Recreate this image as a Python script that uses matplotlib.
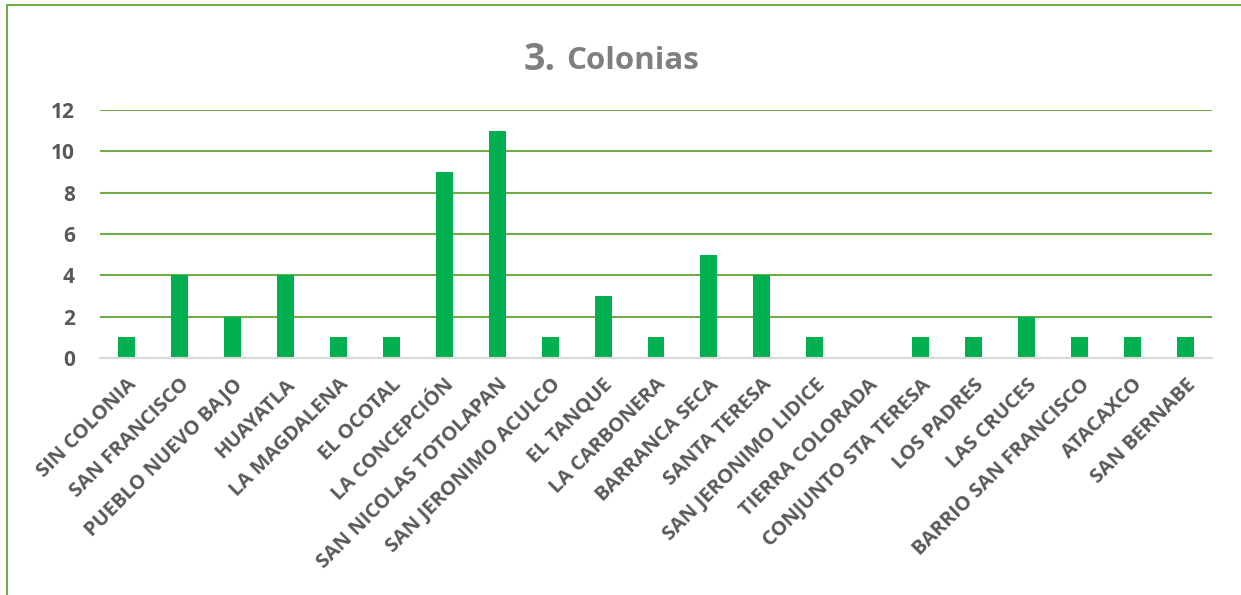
import matplotlib.pyplot as plt
from matplotlib.lines import Line2D

colonias = ["SIN COLONIA", "SAN FRANCISCO", "PUEBLO NUEVO BAJO", "HUAYATLA",
            "LA MAGDALENA", "EL OCOTAL", "LA CONCEPCIÓN", "SAN NICOLAS TOTOLAPAN",
            "SAN JERONIMO ACULCO", "EL TANQUE", "LA CARBONERA", "BARRANCA SECA",
            "SANTA TERESA", "SAN JERONIMO LIDICE", "TIERRA COLORADA",
            "CONJUNTO STA TERESA", "LOS PADRES", "LAS CRUCES",
            "BARRIO SAN FRANCISCO", "ATACAXCO", "SAN BERNABE"]
cantidad = [1, 4, 2, 4, 1, 1, 9, 11, 1, 3, 1, 5, 4, 1, 0, 1, 1, 2, 1, 1, 1]
y_ticks = [0, 2, 4, 6, 8, 10, 12]

plt.rcParams['font.family'] = ['Open Sans', 'DejaVu Sans']

fig = plt.figure(figsize=(12.41, 5.95), dpi=100)
ax = fig.add_axes([100 / 1241, 1 - 358 / 595, 1112 / 1241, 248 / 595])

x = range(len(colonias))
ax.bar(x, cantidad, width=0.32, color='#00B050', zorder=3)
ax.set_xlim(-0.5, len(colonias) - 0.5)
ax.set_ylim(0, 12)
ax.set_yticks(y_ticks)
ax.set_yticklabels([str(v) for v in y_ticks], fontsize=15, fontweight='bold', color='#595959')
ax.set_xticks(list(x))
ax.set_xticklabels(colonias, rotation=45, ha='right', rotation_mode='anchor',
                   fontsize=14.5, fontweight='bold', color='#595959')
ax.tick_params(axis='both', length=0)
ax.tick_params(axis='y', pad=18)
ax.tick_params(axis='x', pad=12)
ax.grid(axis='y', color='#70AD47', linewidth=1.5, zorder=0)
for s in ['top', 'right', 'left']:
    ax.spines[s].set_visible(False)
ax.spines['bottom'].set_color('#D9D9D9')
ax.spines['bottom'].set_linewidth(1.5)
ax.spines['bottom'].set_zorder(4)

# title: "3." bigger than "Colonias"
fig.text(556 / 1241, 1 - 60 / 595, "3.", fontsize=27, fontweight='bold', color='#7F7F7F',
         ha='right', va='center')
fig.text(566 / 1241, 1 - 61 / 595, "Colonias", fontsize=22.5, fontweight='bold', color='#7F7F7F',
         ha='left', va='center')

# chart border (left and top)
fig.add_artist(Line2D([6.5 / 1241, 6.5 / 1241], [0, 1 - 5 / 595], color='#70AD47', linewidth=1.5))
fig.add_artist(Line2D([6.5 / 1241, 1], [1 - 5 / 595, 1 - 5 / 595], color='#70AD47', linewidth=1.5))

fig.savefig('out.png', dpi=100)
